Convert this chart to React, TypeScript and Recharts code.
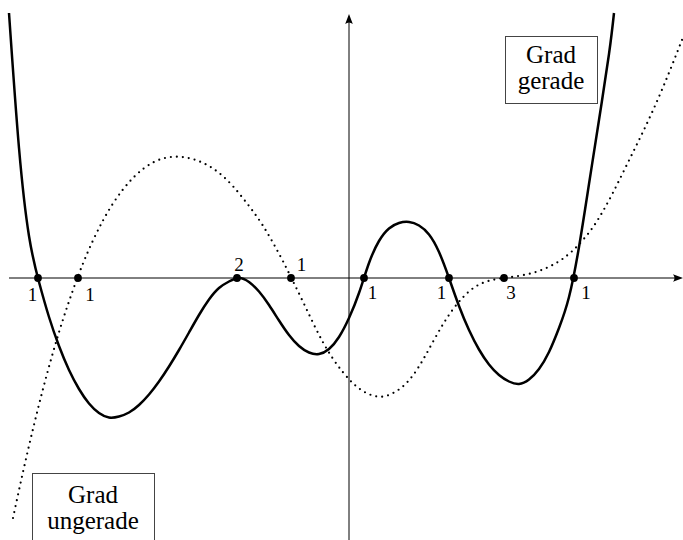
import React from 'react';
import { LineChart, Line, XAxis, YAxis, ReferenceLine, ReferenceDot, ReferenceArea } from 'recharts';

// Units: one unit = one pixel of the reference; origin where the axes cross.
// Even-degree curve (solid)
const evenX = [-340, -330, -320, -310, -300, -290, -280, -270, -260, -250, -240, -230, -220, -210, -200, -190, -180, -170, -160, -150, -140, -130, -120, -110, -100, -90, -80, -70, -60, -50, -40, -30, -20, -10, 0, 10, 20, 30, 40, 50, 60, 70, 80, 90, 100, 110, 120, 130, 140, 150, 160, 170, 180, 190, 200, 210, 220, 230, 240, 250, 260, 265];
const evenY = [265, 130, 42, -4, -39, -68, -92, -111, -125.5, -135, -139.5, -138.5, -134.5, -127, -116.5, -103.5, -88.5, -72, -54.5, -37, -21.5, -10, -3.5, 0, -4, -13.5, -27, -42.5, -57, -68, -74.5, -76, -71, -59, -40, -15, 15, 37, 49.5, 55, 56, 52.5, 43.5, 26, 0, -28, -52, -71.5, -86.5, -97, -103.5, -106, -101.5, -91, -74, -50, -19, 31, 94, 158, 224, 265];

// Odd-degree curve (dotted)
const oddX = [-336, -326, -316, -306, -296, -286, -276, -266, -256, -246, -236, -226, -216, -206, -196, -186, -176, -166, -156, -146, -136, -126, -116, -106, -96, -86, -76, -66, -56, -46, -36, -26, -16, -6, 4, 14, 24, 34, 44, 54, 64, 74, 84, 94, 104, 114, 124, 134, 144, 154, 164, 174, 184, 194, 204, 214, 224, 234, 244, 254, 264, 274, 284, 294, 304, 314, 324, 334];
const oddY = [-240, -194, -151, -111, -74.5, -41.5, -12, 14.5, 37.5, 57.5, 74.5, 88.5, 100, 109, 115.5, 119.5, 121.2, 120.9, 118.9, 115.1, 109.5, 101.7, 91.7, 79.7, 66.7, 52.2, 35.2, 16.7, -3.3, -23.8, -44.8, -64.3, -80.8, -94.3, -105.3, -113.1, -117.6, -118.6, -115.1, -108.3, -97.3, -81.8, -63.8, -46.3, -31.3, -19.3, -10.3, -4.8, -1.8, -0.1, 1.2, 2.9, 5.2, 8.6, 13.2, 19.4, 27.6, 38.1, 50.9, 66.9, 85.4, 105.4, 125.7, 146.2, 167.7, 190.7, 215.2, 240.7];

const rootX = [-311, -271, -112, -58, 15, 100, 155, 225];
const rootLabels = ['1', '1', '2', '1', '1', '1', '3', '1'];

const boxLines = [['Grad', 'gerade'], ['Grad', 'ungerade']];

// ----- layout / styling (not data) -----
const X_DOMAIN: [number, number] = [-349, 334];
const Y_DOMAIN: [number, number] = [-262, 278];
const labelOffsets = [[-5.5, 23], [12, 23], [2, -7], [10.5, -7], [8.5, 21], [-7.5, 21], [7, 21], [12, 21]];
const boxRects = [
  { x1: 156, x2: 248, y1: 175, y2: 242, base: [27, 53] },
  { x1: -317, x2: -195, y1: -290, y2: -195, base: [30, 56] },
];
const FONT = "'Liberation Serif', 'DejaVu Serif', serif";

const evenData = evenX.map((x, i) => ({ x, y: evenY[i] }));
const oddData = oddX.map((x, i) => ({ x, y: oddY[i] }));

const arrowLine = (props: any) => {
  const { x1, y1, x2, y2 } = props;
  const dx = x2 - x1;
  const dy = y2 - y1;
  const len = Math.sqrt(dx * dx + dy * dy) || 1;
  const ux = dx / len;
  const uy = dy / len;
  const L = 10;
  const W = 3.8;
  const bx = x2 - ux * L;
  const by = y2 - uy * L;
  const p1 = `${bx - uy * W},${by + ux * W}`;
  const p2 = `${bx + uy * W},${by - ux * W}`;
  return (
    <g>
      <line x1={x1} y1={y1} x2={bx + ux * 2} y2={by + uy * 2} stroke="#000" strokeWidth={1} />
      <path d={`M${x2},${y2} L${p1} Q${bx + ux * 3},${by + uy * 3} ${p2} Z`} fill="#000" />
    </g>
  );
};

const textStyle = { fontFamily: FONT };

export default function App() {
  return (
    <div style={{ position: 'absolute', left: 0, top: 0, width: 683, height: 540, background: '#fff' }}>
      <LineChart width={683} height={540} margin={{ top: 0, right: 0, bottom: 0, left: 0 }}>
        <XAxis type="number" dataKey="x" domain={X_DOMAIN} allowDataOverflow hide />
        <YAxis type="number" dataKey="y" domain={Y_DOMAIN} allowDataOverflow hide />
        <ReferenceLine
          segment={[{ x: -340, y: 0 }, { x: 334, y: 0 }]}
          ifOverflow="visible"
          shape={arrowLine}
        />
        <ReferenceLine
          segment={[{ x: 0, y: -262 }, { x: 0, y: 264 }]}
          ifOverflow="visible"
          shape={arrowLine}
        />
        <Line
          data={oddData}
          dataKey="y"
          type="natural"
          stroke="#000"
          strokeWidth={2.2}
          strokeDasharray="0 6"
          strokeLinecap="round"
          dot={false}
          activeDot={false}
          isAnimationActive={false}
        />
        <Line
          data={evenData}
          dataKey="y"
          type="natural"
          stroke="#000"
          strokeWidth={2.5}
          dot={false}
          activeDot={false}
          isAnimationActive={false}
        />
        {rootX.map((rx, i) => (
          <ReferenceDot
            key={`r${i}`}
            x={rx}
            y={0}
            r={4}
            ifOverflow="visible"
            shape={(p: any) => (
              <g>
                <circle cx={p.cx} cy={p.cy} r={3.9} fill="#000" />
                <text
                  x={p.cx + labelOffsets[i][0]}
                  y={p.cy + labelOffsets[i][1]}
                  textAnchor="middle"
                  style={textStyle}
                  fontSize={19}
                  fill="#000"
                >
                  {rootLabels[i]}
                </text>
              </g>
            )}
          />
        ))}
        {boxRects.map((b, i) => (
          <ReferenceArea
            key={`b${i}`}
            x1={b.x1}
            x2={b.x2}
            y1={b.y1}
            y2={b.y2}
            ifOverflow="visible"
            shape={(p: any) => (
              <g>
                <rect x={p.x + 0.5} y={p.y + 0.5} width={p.width} height={p.height} fill="#fff" stroke="#444" strokeWidth={1} />
                {boxLines[i].map((t, j) => (
                  <text
                    key={j}
                    x={p.x + p.width / 2}
                    y={p.y + b.base[j]}
                    textAnchor="middle"
                    style={textStyle}
                    fontSize={25}
                    fill="#000"
                  >
                    {t}
                  </text>
                ))}
              </g>
            )}
          />
        ))}
      </LineChart>
    </div>
  );
}
